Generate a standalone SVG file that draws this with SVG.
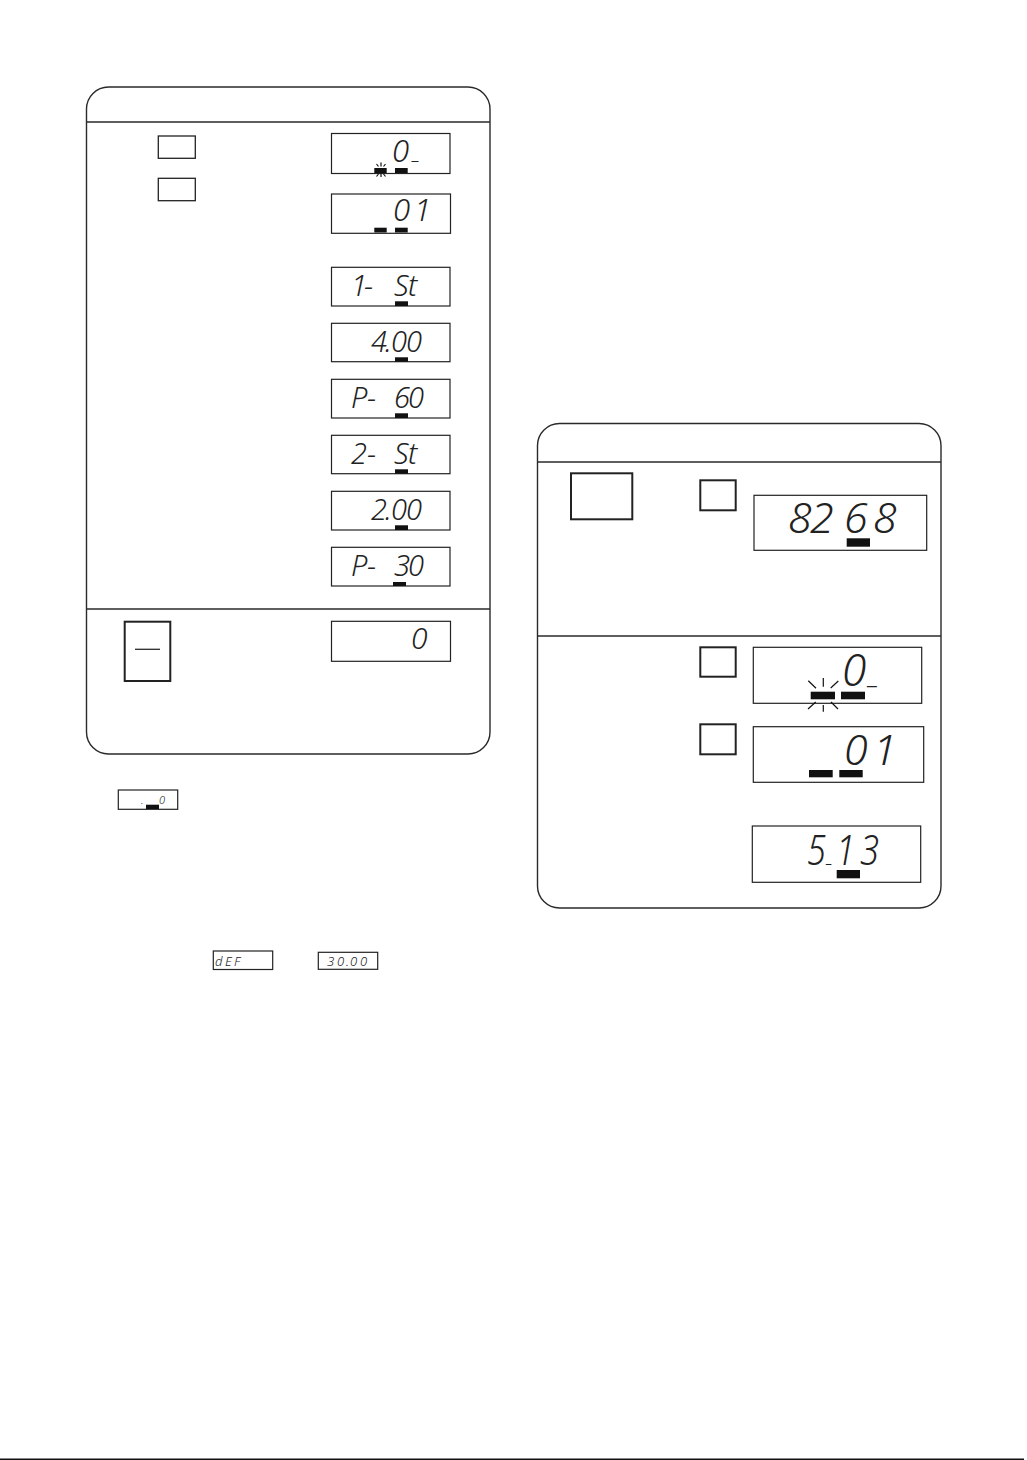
<svg xmlns="http://www.w3.org/2000/svg" width="1027" height="1460" viewBox="0 0 1027 1460">
<style>
.panel{fill:none;stroke:#2a2a2a;stroke-width:1.4}
.rule{stroke:#2a2a2a;stroke-width:1.3}
.btn{fill:#fff;stroke:#222;stroke-width:1.3}
.btnb{fill:#fff;stroke:#222;stroke-width:2}
.disp{fill:#fff;stroke:#222;stroke-width:1.2}
.bar{fill:#111}
.ray{stroke:#111;stroke-width:1.2;fill:none}
.seg{font-family:"Noto Sans","DejaVu Sans",sans-serif;font-weight:300;font-style:italic;fill:#222}
</style>
<rect width="1027" height="1460" fill="#fff"/>

<g id="panel-left">
<rect class="panel" x="86.5" y="87" width="403.5" height="667" rx="22"/>
<line class="rule" x1="86.5" y1="122" x2="490" y2="122"/>
<line class="rule" x1="86.5" y1="609" x2="490" y2="609"/>
</g>

<g id="panel-right">
<rect class="panel" x="537.5" y="423.5" width="403.5" height="484.5" rx="22"/>
<line class="rule" x1="537.5" y1="462" x2="941" y2="462"/>
<line class="rule" x1="537.5" y1="636" x2="941" y2="636"/>
</g>

<g id="btn-l1"><rect class="btn" x="158.3" y="136" width="37" height="22.3"/></g>
<g id="btn-l2"><rect class="btn" x="158.3" y="178.3" width="37" height="22.4"/></g>
<g id="btn-l3"><rect class="btnb" x="124.7" y="621.7" width="45.6" height="59.3"/><line class="rule" x1="135" y1="649.3" x2="160" y2="649.3"/></g>

<g id="disp-l1">
<rect class="disp" x="331.5" y="133.5" width="118.5" height="40"/>
<text class="seg" font-size="31"><tspan x="392" y="162">0</tspan><tspan x="413" y="159" font-size="18">_</tspan></text>
<rect class="bar" x="374.3" y="168" width="12.4" height="5"/>
<rect class="bar" x="395" y="168" width="12.7" height="5"/>
<path class="ray" d="M381 162.5V166.5M381 173.5V177M376.5 164L378.5 166.5M385.5 164L383.5 166.5M376.5 176.5L378.5 174M385.5 176.5L383.5 174"/>
</g>

<g id="disp-l2">
<rect class="disp" x="331.5" y="194" width="119" height="39.3"/>
<text class="seg" font-size="31"><tspan x="393" y="221">0</tspan><tspan x="414" y="221">1</tspan></text>
<rect class="bar" x="374.3" y="227.7" width="12.4" height="4.8"/>
<rect class="bar" x="395" y="227.7" width="12.7" height="4.8"/>
</g>

<g id="disp-l3">
<rect class="disp" x="331.5" y="267.3" width="118.5" height="38.7"/>
<text class="seg" font-size="29" x="351 364 380 394 408" y="295.5">1- St</text>
<rect class="bar" x="395" y="301.3" width="13" height="4.7"/>
</g>

<g id="disp-l4">
<rect class="disp" x="331.5" y="323.3" width="118.5" height="38.4"/>
<text class="seg" font-size="29" x="371 385 391 406" y="351.5">4.00</text>
<rect class="bar" x="395" y="357.3" width="13" height="4.4"/>
</g>

<g id="disp-l5">
<rect class="disp" x="331.5" y="379.3" width="118.5" height="38.7"/>
<text class="seg" font-size="29" x="351 367 380 394 408" y="407.5">P- 60</text>
<rect class="bar" x="395" y="413.3" width="13" height="4.7"/>
</g>

<g id="disp-l6">
<rect class="disp" x="331.5" y="435.3" width="118.5" height="38.4"/>
<text class="seg" font-size="29" x="351 367 380 394 408" y="463.5">2- St</text>
<rect class="bar" x="395" y="469.3" width="13" height="4.4"/>
</g>

<g id="disp-l7">
<rect class="disp" x="331.5" y="491.3" width="118.5" height="38.7"/>
<text class="seg" font-size="29" x="371 385 391 406" y="519.5">2.00</text>
<rect class="bar" x="395" y="525.3" width="13" height="4.7"/>
</g>

<g id="disp-l8">
<rect class="disp" x="331.5" y="547.3" width="118.5" height="38.7"/>
<text class="seg" font-size="29" x="351 367 380 394 408" y="575.5">P- 30</text>
<rect class="bar" x="393" y="582" width="13" height="4"/>
</g>

<g id="disp-l9">
<rect class="disp" x="331.5" y="621.3" width="119" height="40"/>
<text class="seg" font-size="30" x="411" y="649">0</text>
</g>

<g id="disp-small1">
<rect class="disp" x="118.3" y="790" width="59.4" height="19.3"/>
<text class="seg" font-size="11" x="141 159" y="804">.0</text>
<rect class="bar" x="146" y="804.7" width="13" height="4.3"/>
</g>

<g id="disp-small2">
<rect class="disp" x="213.3" y="951" width="59.4" height="18.5"/>
<text class="seg" font-size="13" x="215 225 234" y="966">dEF</text>
</g>

<g id="disp-small3">
<rect class="disp" x="318.3" y="952.3" width="59.4" height="17"/>
<text class="seg" font-size="13" x="327 337 346 350 360" y="966">30.00</text>
</g>

<g id="btn-r1"><rect class="btnb" x="571" y="473.3" width="61.3" height="46"/></g>
<g id="btn-r2"><rect class="btnb" x="700.3" y="480.3" width="35.4" height="30"/></g>
<g id="btn-r3"><rect class="btnb" x="700.3" y="647.3" width="35.4" height="29.4"/></g>
<g id="btn-r4"><rect class="btnb" x="700.3" y="724.3" width="35.4" height="30"/></g>

<g id="disp-r1">
<rect class="disp" x="754" y="495.3" width="172.7" height="55"/>
<text class="seg" font-size="43" x="788 810 844 873" y="533">8268</text>
<rect class="bar" x="846.7" y="538.3" width="23.3" height="8.4"/>
</g>

<g id="disp-r2">
<rect class="disp" x="753.3" y="647.3" width="168.4" height="56"/>
<text class="seg" font-size="44"><tspan x="842" y="686">0</tspan><tspan x="869" y="683" font-size="26">_</tspan></text>
<rect class="bar" x="810.7" y="691.7" width="24.3" height="7.6"/>
<rect class="bar" x="841" y="691.7" width="24" height="7.6"/>
<path class="ray" d="M823.3 678V686.7M823.3 705V711.7M808.3 680.7L816 688.3M838.3 681L830.7 688M808 709L815.7 702M838 709L831 702"/>
</g>

<g id="disp-r3">
<rect class="disp" x="753.3" y="726.7" width="170.4" height="55.6"/>
<text class="seg" font-size="43" x="844 873" y="765">01</text>
<rect class="bar" x="809" y="770" width="23.7" height="7.3"/>
<rect class="bar" x="839.3" y="770" width="23.4" height="7.3"/>
</g>

<g id="disp-r4">
<rect class="disp" x="752.3" y="826" width="168.4" height="56.3"/>
<text class="seg" font-size="43" transform="scale(0.8 1)"><tspan x="1008.75" y="865">5</tspan><tspan x="1033.75" y="862" font-size="18">_</tspan><tspan x="1045" y="865">1</tspan><tspan x="1075" y="865">3</tspan></text>
<rect class="bar" x="836.7" y="870" width="23.3" height="8.3"/>
</g>

<g id="connectors"></g>
<line x1="0" y1="1459.2" x2="1024" y2="1459.2" stroke="#111" stroke-width="1.6"/>
</svg>
